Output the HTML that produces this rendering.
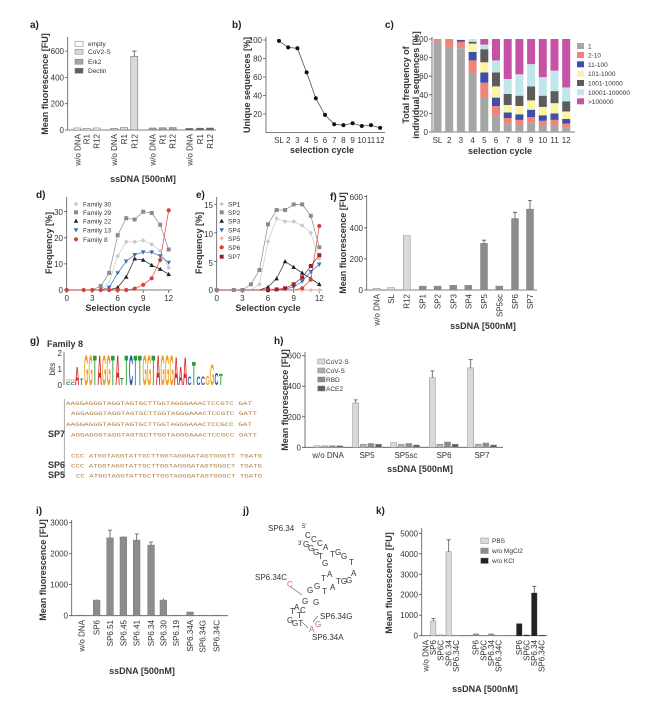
<!DOCTYPE html>
<html><head><meta charset="utf-8"><style>
html,body{margin:0;padding:0;background:#fff}
svg{display:block;font-family:"Liberation Sans",Arial,sans-serif}
.t{font-size:8px;fill:#333}
.b{font-size:9px;font-weight:bold;fill:#333}
.p{font-size:10px;font-weight:bold;fill:#222}
.l{font-size:6.5px;fill:#333}
.ax{stroke:#555;stroke-width:0.8;fill:none}
.sq{font-size:5.2px;font-family:"Liberation Mono",monospace}
</style></head><body>
<svg width="665" height="708" viewBox="0 0 665 708" xmlns="http://www.w3.org/2000/svg">
<defs>
<path id="dia" d="M0,-2.3L2.3,0L0,2.3L-2.3,0Z"/>
<rect id="sqm" x="-2" y="-2" width="4" height="4"/>
<path id="tri" d="M0,-2.4L2.3,1.8L-2.3,1.8Z"/>
<path id="dtri" d="M0,2.4L2.3,-1.8L-2.3,-1.8Z"/>
<circle id="cir" r="2.1"/>
</defs>

<!-- ===== a ===== -->
<text class="p" x="30" y="28">a)</text>
<path class="ax" d="M67.7,37V130H216"/>
<path class="ax" d="M65,130H67.7M65,103.7H67.7M65,77.4H67.7M65,51.1H67.7"/>
<text class="t" text-anchor="end" x="64" y="133">0</text>
<text class="t" text-anchor="end" x="64" y="106.7">200</text>
<text class="t" text-anchor="end" x="64" y="80.4">400</text>
<text class="t" text-anchor="end" x="64" y="54.1">600</text>
<text class="b" transform="translate(48,84) rotate(-90)" text-anchor="middle">Mean fluorescence [FU]</text>
<g stroke="#777" stroke-width="0.6">
<rect x="73.8" y="128" width="7" height="2" fill="#fff"/><rect x="83.2" y="128.4" width="7" height="1.6" fill="#fff"/><rect x="93.2" y="128" width="7" height="2" fill="#fff"/>
<rect x="110.5" y="128.4" width="7" height="1.6" fill="#d9d9d9"/><rect x="120.5" y="127.6" width="7" height="2.4" fill="#d9d9d9"/><rect x="130.8" y="56.3" width="7" height="73.7" fill="#d9d9d9"/>
<rect x="149.2" y="128" width="7" height="2" fill="#a6a6a6"/><rect x="159.2" y="127.8" width="7" height="2.2" fill="#a6a6a6"/><rect x="169.2" y="127.6" width="7" height="2.4" fill="#a6a6a6"/>
<rect x="185.8" y="128.4" width="7" height="1.6" fill="#606060"/><rect x="196.5" y="128.2" width="7" height="1.8" fill="#606060"/><rect x="206.5" y="128" width="7" height="2" fill="#606060"/>
</g>
<path class="ax" d="M134.3,56.3V51M132,51H136.6"/>
<g class="t" text-anchor="end" font-size="8.5">
<text transform="translate(80.3,134) rotate(-90)">w/o DNA</text><text transform="translate(89.7,134) rotate(-90)">R1</text><text transform="translate(99.7,134) rotate(-90)">R12</text>
<text transform="translate(117,134) rotate(-90)">w/o DNA</text><text transform="translate(127,134) rotate(-90)">R1</text><text transform="translate(137.3,134) rotate(-90)">R12</text>
<text transform="translate(155.7,134) rotate(-90)">w/o DNA</text><text transform="translate(165.7,134) rotate(-90)">R1</text><text transform="translate(175.7,134) rotate(-90)">R12</text>
<text transform="translate(192.3,134) rotate(-90)">w/o DNA</text><text transform="translate(203,134) rotate(-90)">R1</text><text transform="translate(213,134) rotate(-90)">R12</text>
</g>
<text class="b" x="143" y="182" text-anchor="middle">ssDNA [500nM]</text>
<g stroke="#777" stroke-width="0.5">
<rect x="75" y="41.2" width="8" height="5" fill="#fff"/><rect x="75" y="49.2" width="8" height="5" fill="#d9d9d9"/><rect x="75" y="59.2" width="8" height="5" fill="#a6a6a6"/><rect x="75" y="68.2" width="8" height="5" fill="#606060"/>
</g>
<g class="l" font-size="5.5"><text x="88" y="46">empty</text><text x="88" y="54">CoV2-S</text><text x="88" y="64">Erk2</text><text x="88" y="73">Dectin</text></g>

<!-- ===== b ===== -->
<text class="p" x="232" y="28">b)</text>
<path class="ax" d="M266,37V132.5H385"/>
<path class="ax" d="M263,40H266M263,58.5H266M263,77H266M263,95.5H266M263,114H266"/>
<g class="t" text-anchor="end"><text x="262" y="43">100</text><text x="262" y="61.5">80</text><text x="262" y="80">60</text><text x="262" y="98.5">40</text><text x="262" y="117">20</text></g>
<text class="b" transform="translate(250,85) rotate(-90)" text-anchor="middle">Unique sequences [%]</text>
<polyline fill="none" stroke="#555" stroke-width="0.8" points="279,40.9 288.2,47.4 297.4,48.3 306.6,72.4 315.8,98.3 325,114.9 334.2,124.2 343.4,125.1 352.6,123.3 361.8,126 371,125.1 380.2,127.9"/>
<g fill="#111"><circle cx="279" cy="40.9" r="2"/><circle cx="288.2" cy="47.4" r="2"/><circle cx="297.4" cy="48.3" r="2"/><circle cx="306.6" cy="72.4" r="2"/><circle cx="315.8" cy="98.3" r="2"/><circle cx="325" cy="114.9" r="2"/><circle cx="334.2" cy="124.2" r="2"/><circle cx="343.4" cy="125.1" r="2"/><circle cx="352.6" cy="123.3" r="2"/><circle cx="361.8" cy="126" r="2"/><circle cx="371" cy="125.1" r="2"/><circle cx="380.2" cy="127.9" r="2"/></g>
<g class="t" text-anchor="middle" font-size="8.5"><text x="279" y="143">SL</text><text x="288.2" y="143">2</text><text x="297.4" y="143">3</text><text x="306.6" y="143">4</text><text x="315.8" y="143">5</text><text x="325" y="143">6</text><text x="334.2" y="143">7</text><text x="343.4" y="143">8</text><text x="352.6" y="143">9</text><text x="361.8" y="143">10</text><text x="371" y="143">11</text><text x="380.2" y="143">12</text></g>
<text class="b" x="322" y="153" text-anchor="middle">selection cycle</text>

<!-- ===== c ===== -->
<text class="p" x="385" y="28">c)</text>
<path class="ax" d="M432,37V132H575"/>
<path class="ax" d="M429,39H432M429,57.6H432M429,76.2H432M429,94.8H432M429,113.4H432M429,132H432"/>
<g class="t" text-anchor="end"><text x="428" y="42">100</text><text x="428" y="60.6">80</text><text x="428" y="79.2">60</text><text x="428" y="97.8">40</text><text x="428" y="116.4">20</text><text x="428" y="135">0</text></g>
<text class="b" transform="translate(409,85) rotate(-90)" text-anchor="middle">Total frequency of</text>
<text class="b" transform="translate(419,85) rotate(-90)" text-anchor="middle">individual sequences [%]</text>
<g>
<!-- SL -->
<rect x="433.5" y="40.9" width="8" height="91.1" fill="#a6a6a6"/><rect x="433.5" y="39" width="8" height="1.9" fill="#f08478"/>
<!-- 2 -->
<rect x="445.2" y="47.4" width="8" height="84.6" fill="#a6a6a6"/><rect x="445.2" y="39" width="8" height="8.4" fill="#f08478"/>
<!-- 3 -->
<rect x="456.9" y="48.3" width="8" height="83.7" fill="#a6a6a6"/><rect x="456.9" y="41.8" width="8" height="6.5" fill="#f08478"/><rect x="456.9" y="39.9" width="8" height="1.9" fill="#3d4fa8"/><rect x="456.9" y="39" width="8" height="0.9" fill="#fbf3a6"/>
<!-- 4 -->
<rect x="468.6" y="72.5" width="8" height="59.5" fill="#a6a6a6"/><rect x="468.6" y="60.4" width="8" height="12.1" fill="#f08478"/><rect x="468.6" y="52" width="8" height="8.4" fill="#3d4fa8"/><rect x="468.6" y="43.6" width="8" height="8.4" fill="#fbf3a6"/><rect x="468.6" y="41.7" width="8" height="1.9" fill="#5c5c5c"/><rect x="468.6" y="39" width="8" height="2.7" fill="#bfe6ea"/>
<!-- 5 -->
<rect x="480.3" y="97.6" width="8" height="34.4" fill="#a6a6a6"/><rect x="480.3" y="82.7" width="8" height="14.9" fill="#f08478"/><rect x="480.3" y="72.5" width="8" height="10.2" fill="#3d4fa8"/><rect x="480.3" y="62.25" width="8" height="10.25" fill="#fbf3a6"/><rect x="480.3" y="49.2" width="8" height="13.05" fill="#5c5c5c"/><rect x="480.3" y="44.6" width="8" height="4.6" fill="#bfe6ea"/><rect x="480.3" y="39" width="8" height="5.6" fill="#c552a6"/>
<!-- 6 -->
<rect x="492" y="115.3" width="8" height="16.7" fill="#a6a6a6"/><rect x="492" y="106" width="8" height="9.3" fill="#f08478"/><rect x="492" y="97.6" width="8" height="8.4" fill="#3d4fa8"/><rect x="492" y="86.4" width="8" height="11.2" fill="#fbf3a6"/><rect x="492" y="72.5" width="8" height="13.9" fill="#5c5c5c"/><rect x="492" y="60.4" width="8" height="12.1" fill="#bfe6ea"/><rect x="492" y="39" width="8" height="21.4" fill="#c552a6"/>
<!-- 7 -->
<rect x="503.7" y="123.6" width="8" height="8.4" fill="#a6a6a6"/><rect x="503.7" y="118" width="8" height="5.6" fill="#f08478"/><rect x="503.7" y="112.5" width="8" height="5.5" fill="#3d4fa8"/><rect x="503.7" y="105" width="8" height="7.5" fill="#fbf3a6"/><rect x="503.7" y="93.9" width="8" height="11.1" fill="#5c5c5c"/><rect x="503.7" y="79" width="8" height="14.9" fill="#bfe6ea"/><rect x="503.7" y="39" width="8" height="40" fill="#c552a6"/>
<!-- 8 -->
<rect x="515.4" y="124.6" width="8" height="7.4" fill="#a6a6a6"/><rect x="515.4" y="119.9" width="8" height="4.7" fill="#f08478"/><rect x="515.4" y="114.3" width="8" height="5.6" fill="#3d4fa8"/><rect x="515.4" y="106" width="8" height="8.3" fill="#fbf3a6"/><rect x="515.4" y="95.7" width="8" height="10.3" fill="#5c5c5c"/><rect x="515.4" y="74.3" width="8" height="21.4" fill="#bfe6ea"/><rect x="515.4" y="39" width="8" height="35.3" fill="#c552a6"/>
<!-- 9 -->
<rect x="527.1" y="122.7" width="8" height="9.3" fill="#a6a6a6"/><rect x="527.1" y="117.1" width="8" height="5.6" fill="#f08478"/><rect x="527.1" y="109.7" width="8" height="7.4" fill="#3d4fa8"/><rect x="527.1" y="100.4" width="8" height="9.3" fill="#fbf3a6"/><rect x="527.1" y="86.4" width="8" height="14" fill="#5c5c5c"/><rect x="527.1" y="64.1" width="8" height="22.3" fill="#bfe6ea"/><rect x="527.1" y="39" width="8" height="25.1" fill="#c552a6"/>
<!-- 10 -->
<rect x="538.8" y="125.5" width="8" height="6.5" fill="#a6a6a6"/><rect x="538.8" y="120.8" width="8" height="4.7" fill="#f08478"/><rect x="538.8" y="115.3" width="8" height="5.5" fill="#3d4fa8"/><rect x="538.8" y="106.9" width="8" height="8.4" fill="#fbf3a6"/><rect x="538.8" y="95.7" width="8" height="11.2" fill="#5c5c5c"/><rect x="538.8" y="77.1" width="8" height="18.6" fill="#bfe6ea"/><rect x="538.8" y="39" width="8" height="38.1" fill="#c552a6"/>
<!-- 11 -->
<rect x="550.5" y="124.6" width="8" height="7.4" fill="#a6a6a6"/><rect x="550.5" y="119.9" width="8" height="4.7" fill="#f08478"/><rect x="550.5" y="113.4" width="8" height="6.5" fill="#3d4fa8"/><rect x="550.5" y="103.2" width="8" height="10.2" fill="#fbf3a6"/><rect x="550.5" y="91.1" width="8" height="12.1" fill="#5c5c5c"/><rect x="550.5" y="70.6" width="8" height="20.5" fill="#bfe6ea"/><rect x="550.5" y="39" width="8" height="31.6" fill="#c552a6"/>
<!-- 12 -->
<rect x="562.2" y="127.4" width="8" height="4.6" fill="#a6a6a6"/><rect x="562.2" y="123.6" width="8" height="3.8" fill="#f08478"/><rect x="562.2" y="119" width="8" height="4.6" fill="#3d4fa8"/><rect x="562.2" y="111.5" width="8" height="7.5" fill="#fbf3a6"/><rect x="562.2" y="101.3" width="8" height="10.2" fill="#5c5c5c"/><rect x="562.2" y="87.4" width="8" height="13.9" fill="#bfe6ea"/><rect x="562.2" y="39" width="8" height="48.4" fill="#c552a6"/>
</g>
<g class="t" text-anchor="middle" font-size="8.5"><text x="437.5" y="143">SL</text><text x="449.2" y="143">2</text><text x="460.9" y="143">3</text><text x="472.6" y="143">4</text><text x="484.3" y="143">5</text><text x="496" y="143">6</text><text x="507.7" y="143">7</text><text x="519.4" y="143">8</text><text x="531.1" y="143">9</text><text x="542.8" y="143">10</text><text x="554.5" y="143">11</text><text x="566.2" y="143">12</text></g>
<text class="b" x="500" y="154" text-anchor="middle">selection cycle</text>
<g>
<rect x="577" y="43" width="7" height="6" fill="#a6a6a6"/><rect x="577" y="52" width="7" height="6" fill="#f08478"/><rect x="577" y="61.3" width="7" height="6" fill="#3d4fa8"/><rect x="577" y="70.7" width="7" height="6" fill="#fbf3a6"/><rect x="577" y="80" width="7" height="6" fill="#5c5c5c"/><rect x="577" y="89.3" width="7" height="6" fill="#bfe6ea"/><rect x="577" y="98.3" width="7" height="6" fill="#c552a6"/>
</g>
<g class="l"><text x="588" y="48.5">1</text><text x="588" y="57.5">2-10</text><text x="588" y="66.8">11-100</text><text x="588" y="76.2">101-1000</text><text x="588" y="85.5">1001-10000</text><text x="588" y="94.8">10001-100000</text><text x="588" y="103.8">&gt;100000</text></g>

<!-- ===== d ===== -->
<text class="p" x="36" y="198">d)</text>
<path class="ax" d="M66.7,197V290H172"/>
<path class="ax" d="M64,290H66.7M64,263.9H66.7M64,237.8H66.7M64,211.7H66.7M66.7,290V293M92.2,290V293M117.7,290V293M143.2,290V293M168.7,290V293"/>
<g class="t" text-anchor="end" font-size="8.5"><text x="63" y="293">0</text><text x="63" y="267">10</text><text x="63" y="241">20</text><text x="63" y="215">30</text></g>
<g class="t" text-anchor="middle" font-size="8.5"><text x="66.7" y="301">0</text><text x="92.2" y="301">3</text><text x="117.7" y="301">6</text><text x="143.2" y="301">9</text><text x="168.7" y="301">12</text></g>
<text class="b" x="118" y="311" text-anchor="middle">Selection cycle</text>
<text class="b" transform="translate(52,243) rotate(-90)" text-anchor="middle">Frequency [%]</text>
<g fill="none" stroke-width="0.7">
<polyline stroke="#8a8a8a" points="66.7,290 83.7,290 92.2,290 100.7,286.1 109.2,273 117.7,235.2 126.2,218.2 134.7,219.5 143.2,211.7 151.7,213 160.2,224.8 168.7,249.5"/>
<polyline stroke="#c8c8c8" points="66.7,290 83.7,290 92.2,290 100.7,290 109.2,282.2 117.7,256.1 126.2,241.7 134.7,241.7 143.2,240.4 151.7,244.3 160.2,250.9 168.7,267.8"/>
<polyline stroke="#3a6fb0" points="66.7,290 83.7,290 92.2,290 100.7,290 109.2,287.4 117.7,273 126.2,261.3 134.7,254.8 143.2,252.2 151.7,252.2 160.2,256.1 168.7,262.6"/>
<polyline stroke="#222" points="66.7,290 83.7,290 92.2,290 100.7,290 109.2,290 117.7,287.4 126.2,277 134.7,258.7 143.2,260 151.7,265.2 160.2,269.1 168.7,274.3"/>
<polyline stroke="#d9403a" points="66.7,290 83.7,290 92.2,290 100.7,290 109.2,290 117.7,290 126.2,290 134.7,288.7 143.2,284.8 151.7,278.3 160.2,260 168.7,210.4"/>
</g>
<g fill="#8a8a8a"><use href="#sqm" x="100.7" y="286.1"/><use href="#sqm" x="109.2" y="273"/><use href="#sqm" x="117.7" y="235.2"/><use href="#sqm" x="126.2" y="218.2"/><use href="#sqm" x="134.7" y="219.5"/><use href="#sqm" x="143.2" y="211.7"/><use href="#sqm" x="151.7" y="213"/><use href="#sqm" x="160.2" y="224.8"/><use href="#sqm" x="168.7" y="249.5"/></g>
<g fill="#c8c8c8"><use href="#dia" x="117.7" y="256.1"/><use href="#dia" x="126.2" y="241.7"/><use href="#dia" x="134.7" y="241.7"/><use href="#dia" x="143.2" y="240.4"/><use href="#dia" x="151.7" y="244.3"/><use href="#dia" x="160.2" y="250.9"/><use href="#dia" x="168.7" y="267.8"/></g>
<g fill="#3a6fb0"><use href="#dtri" x="109.2" y="287.4"/><use href="#dtri" x="117.7" y="273"/><use href="#dtri" x="126.2" y="261.3"/><use href="#dtri" x="134.7" y="254.8"/><use href="#dtri" x="143.2" y="252.2"/><use href="#dtri" x="151.7" y="252.2"/><use href="#dtri" x="160.2" y="256.1"/><use href="#dtri" x="168.7" y="262.6"/></g>
<g fill="#222"><use href="#tri" x="117.7" y="287.4"/><use href="#tri" x="126.2" y="277"/><use href="#tri" x="134.7" y="258.7"/><use href="#tri" x="143.2" y="260"/><use href="#tri" x="151.7" y="265.2"/><use href="#tri" x="160.2" y="269.1"/><use href="#tri" x="168.7" y="274.3"/></g>
<g fill="#d9403a"><use href="#cir" x="66.7" y="290"/><use href="#cir" x="83.7" y="290"/><use href="#cir" x="92.2" y="290"/><use href="#cir" x="100.7" y="290"/><use href="#cir" x="109.2" y="290"/><use href="#cir" x="117.7" y="290"/><use href="#cir" x="126.2" y="290"/><use href="#cir" x="134.7" y="288.7"/><use href="#cir" x="143.2" y="284.8"/><use href="#cir" x="151.7" y="278.3"/><use href="#cir" x="160.2" y="260"/><use href="#cir" x="168.7" y="210.4"/></g>
<use href="#dia" x="76" y="204" fill="#c8c8c8"/><use href="#sqm" x="76" y="212.3" fill="#8a8a8a"/><use href="#tri" x="76" y="221" fill="#222"/><use href="#dtri" x="76" y="230" fill="#3a6fb0"/><use href="#cir" x="76" y="239.3" fill="#d9403a"/>
<g class="l" font-size="7"><text x="83" y="206.5">Family 30</text><text x="83" y="214.8">Family 29</text><text x="83" y="223.5">Family 22</text><text x="83" y="232.5">Family 13</text><text x="83" y="241.8">Family 8</text></g>

<!-- ===== e ===== -->
<text class="p" x="196" y="198">e)</text>
<path class="ax" d="M216.7,197V290H322"/>
<path class="ax" d="M214,290H216.7M214,261.5H216.7M214,232.9H216.7M214,204.4H216.7M216.7,290V293M242.4,290V293M268,290V293M293.7,290V293M319.3,290V293"/>
<g class="t" text-anchor="end" font-size="8.5"><text x="213" y="293">0</text><text x="213" y="266">5</text><text x="213" y="237">10</text><text x="213" y="208">15</text></g>
<g class="t" text-anchor="middle" font-size="8.5"><text x="216.7" y="301">0</text><text x="242.4" y="301">3</text><text x="268" y="301">6</text><text x="293.7" y="301">9</text><text x="319.3" y="301">12</text></g>
<text class="b" x="268" y="311" text-anchor="middle">Selection cycle</text>
<text class="b" transform="translate(202,243) rotate(-90)" text-anchor="middle">Frequency [%]</text>
<g fill="none" stroke-width="0.7">
<polyline stroke="#8a8a8a" points="216.7,290 233.8,290 242.4,290 250.9,284.3 259.5,270 268,224.3 276.6,210 285.1,210 293.7,204.4 302.2,204.4 310.8,215.8 319.3,247.2"/>
<polyline stroke="#c8c8c8" points="216.7,290 233.8,290 242.4,290 250.9,290 259.5,284.3 268,241.5 276.6,218.6 285.1,221.5 293.7,221.5 302.2,225.5 310.8,232.9 319.3,258.6"/>
<polyline stroke="#222" points="216.7,290 233.8,290 242.4,290 250.9,290 259.5,290 268,287.1 276.6,278.6 285.1,261.5 293.7,267.2 302.2,272.9 310.8,278.6 319.3,284.3"/>
<polyline stroke="#3a6fb0" points="216.7,290 276.6,290 285.1,288.9 293.7,287.1 302.2,281.4 310.8,271.7 319.3,264.3"/>
<polyline stroke="#f0b8b8" points="216.7,290 319.3,290"/>
<polyline stroke="#d9403a" points="216.7,290 293.7,290 302.2,288.3 310.8,279.7 319.3,226"/>
<polyline stroke="#a0202a" points="216.7,290 268,290 276.6,289.4 285.1,288.3 293.7,284.3 302.2,277.4 310.8,266 319.3,255.2"/>
</g>
<g fill="#8a8a8a"><use href="#sqm" x="216.7" y="290"/><use href="#sqm" x="233.8" y="290"/><use href="#sqm" x="242.4" y="290"/><use href="#sqm" x="250.9" y="284.3"/><use href="#sqm" x="259.5" y="270"/><use href="#sqm" x="268" y="224.3"/><use href="#sqm" x="276.6" y="210"/><use href="#sqm" x="285.1" y="210"/><use href="#sqm" x="293.7" y="204.4"/><use href="#sqm" x="302.2" y="204.4"/><use href="#sqm" x="310.8" y="215.8"/><use href="#sqm" x="319.3" y="247.2"/></g>
<g fill="#c8c8c8"><use href="#dia" x="259.5" y="284.3"/><use href="#dia" x="268" y="241.5"/><use href="#dia" x="276.6" y="218.6"/><use href="#dia" x="285.1" y="221.5"/><use href="#dia" x="293.7" y="221.5"/><use href="#dia" x="302.2" y="225.5"/><use href="#dia" x="310.8" y="232.9"/><use href="#dia" x="319.3" y="258.6"/></g>
<g fill="#222"><use href="#tri" x="268" y="287.1"/><use href="#tri" x="276.6" y="278.6"/><use href="#tri" x="285.1" y="261.5"/><use href="#tri" x="293.7" y="267.2"/><use href="#tri" x="302.2" y="272.9"/><use href="#tri" x="310.8" y="278.6"/><use href="#tri" x="319.3" y="284.3"/></g>
<g fill="#3a6fb0"><use href="#dtri" x="285.1" y="288.9"/><use href="#dtri" x="293.7" y="287.1"/><use href="#dtri" x="302.2" y="281.4"/><use href="#dtri" x="310.8" y="271.7"/><use href="#dtri" x="319.3" y="264.3"/></g>
<g fill="#f0b8b8"><use href="#dia" x="302.2" y="290"/><use href="#dia" x="310.8" y="290"/><use href="#dia" x="319.3" y="290"/></g>
<g fill="#a0202a"><use href="#sqm" x="268" y="290"/><use href="#sqm" x="276.6" y="289.4"/><use href="#sqm" x="285.1" y="288.3"/><use href="#sqm" x="293.7" y="284.3"/><use href="#sqm" x="302.2" y="277.4"/><use href="#sqm" x="310.8" y="266"/><use href="#sqm" x="319.3" y="255.2"/></g>
<g fill="#d9403a"><use href="#cir" x="302.2" y="288.3"/><use href="#cir" x="310.8" y="279.7"/><use href="#cir" x="319.3" y="226"/></g>
<use href="#dia" x="221.7" y="204" fill="#c8c8c8"/><use href="#sqm" x="221.7" y="212.3" fill="#8a8a8a"/><use href="#tri" x="221.7" y="221" fill="#222"/><use href="#dtri" x="221.7" y="230" fill="#3a6fb0"/><use href="#dia" x="221.7" y="238.3" fill="#f0b8b8"/><use href="#cir" x="221.7" y="247.3" fill="#d9403a"/><use href="#sqm" x="221.7" y="256.7" fill="#a0202a"/>
<g class="l" font-size="7"><text x="228" y="206.5">SP1</text><text x="228" y="214.8">SP2</text><text x="228" y="223.5">SP3</text><text x="228" y="232.5">SP4</text><text x="228" y="240.8">SP5</text><text x="228" y="249.8">SP6</text><text x="228" y="259.2">SP7</text></g>

<!-- ===== f ===== -->
<text class="p" x="330" y="200">f)</text>
<path class="ax" d="M366.7,195V290H537"/>
<path class="ax" d="M364,290H366.7M364,258.9H366.7M364,227.8H366.7M364,196.7H366.7"/>
<g class="t" text-anchor="end" font-size="8.5"><text x="363" y="293">0</text><text x="363" y="262">200</text><text x="363" y="231">400</text><text x="363" y="200">600</text></g>
<text class="b" transform="translate(346,243) rotate(-90)" text-anchor="middle">Mean fluorescence [FU]</text>
<g stroke="#888" stroke-width="0.5">
<rect x="373.2" y="288.4" width="7" height="1.6" fill="#d9d9d9"/><rect x="387.5" y="287.7" width="7" height="2.3" fill="#d9d9d9"/><rect x="403.2" y="235.6" width="7" height="54.4" fill="#d9d9d9"/>
<g fill="#8c8c8c"><rect x="419.2" y="286.1" width="7" height="3.9"/><rect x="434.2" y="286.1" width="7" height="3.9"/><rect x="449.8" y="285.3" width="7" height="4.7"/><rect x="464.8" y="285.3" width="7" height="4.7"/><rect x="480.5" y="243.3" width="7" height="46.7"/><rect x="495.8" y="286.1" width="7" height="3.9"/><rect x="511.5" y="218.5" width="7" height="71.5"/><rect x="526.5" y="209.1" width="7" height="80.9"/></g>
</g>
<path class="ax" d="M484,243.3V240.2M482,240.2H486M515,218.5V212.3M513,212.3H517M530,209.1V200.5M528,200.5H532"/>
<g class="t" text-anchor="end" font-size="8.5">
<text transform="translate(379.7,294) rotate(-90)">w/o DNA</text><text transform="translate(394,294) rotate(-90)">SL</text><text transform="translate(409.7,294) rotate(-90)">R12</text><text transform="translate(425.7,294) rotate(-90)">SP1</text><text transform="translate(440.7,294) rotate(-90)">SP2</text><text transform="translate(456.3,294) rotate(-90)">SP3</text><text transform="translate(471.3,294) rotate(-90)">SP4</text><text transform="translate(487,294) rotate(-90)">SP5</text><text transform="translate(502.3,294) rotate(-90)">SP5sc</text><text transform="translate(518,294) rotate(-90)">SP6</text><text transform="translate(533,294) rotate(-90)">SP7</text>
</g>
<text class="b" x="483" y="329" text-anchor="middle">ssDNA [500nM]</text>

<!-- ===== g ===== -->
<text class="p" x="30" y="344">g)</text>
<text class="b" x="47" y="347" font-size="8">Family 8</text>
<text class="t" transform="translate(55,369) rotate(-90)" text-anchor="middle" font-size="8">bits</text>
<path class="ax" d="M64,352V385"/>
<g class="t" text-anchor="end" font-size="7.5"><text x="62" y="356">2</text><text x="62" y="372">1</text><text x="62" y="388">0</text></g>
<g font-family="Liberation Sans, sans-serif" font-weight="bold" font-size="10">
<text transform="translate(66,385) scale(0.6,0.45)" fill="#2050b0">C</text><text transform="translate(66,381.5) scale(0.6,0.4)" fill="#f0a020">G</text>
<text transform="translate(70.5,385) scale(0.6,0.45)" fill="#2050b0">C</text><text transform="translate(70.5,381.5) scale(0.6,0.4)" fill="#f0a020">G</text>
<text transform="translate(75,385) scale(0.6,2.6)" fill="#d62728">A</text>
<text transform="translate(79.5,385) scale(0.6,0.9)" fill="#2a9a3a">T</text>
<text transform="translate(84,385) scale(0.55,4.3)" fill="#f0a020">G</text>
<text transform="translate(88.5,385) scale(0.55,4.3)" fill="#f0a020">G</text>
<text transform="translate(93,385) scale(0.6,4.3)" fill="#2a9a3a">T</text>
<text transform="translate(97.5,385) scale(0.6,4.3)" fill="#d62728">A</text>
<text transform="translate(102,385) scale(0.55,4.3)" fill="#f0a020">G</text>
<text transform="translate(106.5,385) scale(0.55,4.3)" fill="#f0a020">G</text>
<text transform="translate(111,385) scale(0.6,4.3)" fill="#2a9a3a">T</text>
<text transform="translate(115.5,385) scale(0.6,4.3)" fill="#d62728">A</text>
<text transform="translate(120,385) scale(0.6,1.0)" fill="#2a9a3a">T</text>
<text transform="translate(124.5,385) scale(0.6,4.3)" fill="#2a9a3a">T</text>
<text transform="translate(129,385) scale(0.55,4.3)" fill="#2050b0">C</text>
<text transform="translate(133.5,385) scale(0.6,4.3)" fill="#2a9a3a">T</text>
<text transform="translate(138,385) scale(0.6,4.3)" fill="#2a9a3a">T</text>
<text transform="translate(142.5,385) scale(0.55,4.3)" fill="#f0a020">G</text>
<text transform="translate(147,385) scale(0.55,4.3)" fill="#f0a020">G</text>
<text transform="translate(151.5,385) scale(0.6,4.3)" fill="#2a9a3a">T</text>
<text transform="translate(156,385) scale(0.6,4.3)" fill="#d62728">A</text>
<text transform="translate(160.5,385) scale(0.55,4.3)" fill="#f0a020">G</text>
<text transform="translate(165,385) scale(0.55,4.3)" fill="#f0a020">G</text>
<text transform="translate(169.5,385) scale(0.55,4.3)" fill="#f0a020">G</text>
<text transform="translate(174,385) scale(0.6,4.0)" fill="#d62728">A</text>
<text transform="translate(178.5,385) scale(0.6,2.6)" fill="#d62728">A</text>
<text transform="translate(183,385) scale(0.6,4.0)" fill="#d62728">A</text>
<text transform="translate(187.5,385) scale(0.55,1.2)" fill="#2050b0">C</text>
<text transform="translate(192,385) scale(0.6,3.3)" fill="#2a9a3a">T</text>
<text transform="translate(196.5,385) scale(0.55,1.2)" fill="#2050b0">C</text>
<text transform="translate(201,385) scale(0.55,1.2)" fill="#2050b0">C</text>
<text transform="translate(205.5,385) scale(0.55,1.3)" fill="#f0a020">G</text>
<text transform="translate(210,385) scale(0.55,3.0)" fill="#f0a020">G</text>
<text transform="translate(214.5,385) scale(0.55,1.8)" fill="#2050b0">C</text>
<text transform="translate(219,385) scale(0.6,1.6)" fill="#2a9a3a">T</text>
</g>
<path stroke="#888" stroke-width="0.7" d="M64.3,399V477"/>
<g class="b" font-size="7"><text x="48" y="437">SP7</text><text x="48" y="468">SP6</text><text x="48" y="478">SP5</text></g>
<g class="sq" fill="#b07a3a">
<text x="66" y="405" textLength="186" lengthAdjust="spacingAndGlyphs">AAGGAGGGTAGGTAGTGCTTGGTAGGGAAACTCCGTC GAT</text>
<text x="71" y="415" textLength="186" lengthAdjust="spacingAndGlyphs">AGGAGGGTAGGTAGTGCTTGGTAGGGAAACTCCGTC GATT</text>
<text x="66" y="426" textLength="186" lengthAdjust="spacingAndGlyphs">AAGGAGGGTAGGTAGTGCTTGGTAGGGAAACTCCGCC GAT</text>
<text x="71" y="436.5" textLength="186" lengthAdjust="spacingAndGlyphs">AGGAGGGTAGGTAGTGCTTGGTAGGGAAACTCCGCC GATT</text>
<text x="71" y="457.5" textLength="191" lengthAdjust="spacingAndGlyphs">CCC ATGGTAGGTATTGCTTGGTAGGGATAGTGGGTT TGATG</text>
<text x="71" y="467.5" textLength="191" lengthAdjust="spacingAndGlyphs">CCC ATGGTAGGTATTGCTTGGTAGGGATAGTGGGCT TGATG</text>
<text x="76" y="477.5" textLength="186" lengthAdjust="spacingAndGlyphs">CC ATGGTAGGTATTGCTTGGTAGGGATAGTGGGCT TGATG</text>
</g>

<!-- ===== h ===== -->
<text class="p" x="274" y="344">h)</text>
<path class="ax" d="M305,352V447.3H503"/>
<path class="ax" d="M302,447.3H305M302,416.8H305M302,386.2H305M302,355.7H305"/>
<g class="t" text-anchor="end" font-size="8.5"><text x="301" y="450.3">0</text><text x="301" y="419.8">200</text><text x="301" y="389.2">400</text><text x="301" y="358.7">600</text></g>
<text class="b" transform="translate(288,400) rotate(-90)" text-anchor="middle">Mean fluorescence [FU]</text>
<g stroke="#888" stroke-width="0.5">
<rect x="314" y="445.8" width="6" height="1.5" fill="#d9d9d9"/><rect x="321.6" y="445.8" width="6" height="1.5" fill="#b0b0b0"/><rect x="329.2" y="445.8" width="6" height="1.5" fill="#8c8c8c"/><rect x="336.8" y="445.8" width="6" height="1.5" fill="#5f5f5f"/>
<rect x="352.7" y="403" width="6" height="44.3" fill="#d9d9d9"/><rect x="360.3" y="444.2" width="6" height="3.1" fill="#b0b0b0"/><rect x="367.9" y="443.5" width="6" height="3.8" fill="#8c8c8c"/><rect x="375.5" y="444.2" width="6" height="3.1" fill="#5f5f5f"/>
<rect x="390.7" y="442.7" width="6" height="4.6" fill="#d9d9d9"/><rect x="398.3" y="444.2" width="6" height="3.1" fill="#b0b0b0"/><rect x="405.9" y="443.5" width="6" height="3.8" fill="#8c8c8c"/><rect x="413.5" y="445" width="6" height="2.3" fill="#5f5f5f"/>
<rect x="429.3" y="377.8" width="6" height="69.5" fill="#d9d9d9"/><rect x="436.9" y="444.2" width="6" height="3.1" fill="#b0b0b0"/><rect x="444.5" y="442" width="6" height="5.3" fill="#8c8c8c"/><rect x="452.1" y="444.2" width="6" height="3.1" fill="#5f5f5f"/>
<rect x="467.7" y="367.9" width="6" height="79.4" fill="#d9d9d9"/><rect x="475.3" y="444.2" width="6" height="3.1" fill="#b0b0b0"/><rect x="482.9" y="443" width="6" height="4.3" fill="#8c8c8c"/><rect x="490.5" y="445" width="6" height="2.3" fill="#5f5f5f"/>
</g>
<path class="ax" d="M355.7,403V399.9M353.7,399.9H357.7M432.3,377.8V370.9M430.3,370.9H434.3M470.7,367.9V359.5M468.7,359.5H472.7"/>
<g class="t" text-anchor="middle" font-size="8.5"><text x="328" y="458">w/o DNA</text><text x="367" y="458">SP5</text><text x="406" y="458">SP5sc</text><text x="444" y="458">SP6</text><text x="482" y="458">SP7</text></g>
<text class="b" x="420" y="472" text-anchor="middle">ssDNA [500nM]</text>
<g stroke="#888" stroke-width="0.5"><rect x="317.7" y="359" width="7.3" height="5" fill="#d9d9d9"/><rect x="317.7" y="368" width="7.3" height="5" fill="#b0b0b0"/><rect x="317.7" y="377" width="7.3" height="5" fill="#8c8c8c"/><rect x="317.7" y="386" width="7.3" height="5" fill="#5f5f5f"/></g>
<g class="l" font-size="6.5"><text x="326" y="364">CoV2-S</text><text x="326" y="373">CoV-S</text><text x="326" y="382">RBD</text><text x="326" y="391">ACE2</text></g>

<!-- ===== i ===== -->
<text class="p" x="36" y="514">i)</text>
<path class="ax" d="M71.7,520V615.7H228"/>
<path class="ax" d="M69,615.7H71.7M69,584.6H71.7M69,553.5H71.7M69,522.4H71.7"/>
<g class="t" text-anchor="end" font-size="8.5"><text x="68" y="618.7">0</text><text x="68" y="587.6">1000</text><text x="68" y="556.5">2000</text><text x="68" y="525.4">3000</text></g>
<text class="b" transform="translate(46,570) rotate(-90)" text-anchor="middle">Mean fluorescence [FU]</text>
<g fill="#8c8c8c" stroke="#777" stroke-width="0.5">
<rect x="78.3" y="615.2" width="6.7" height="0.5"/><rect x="93.3" y="600.1" width="6.7" height="15.6"/><rect x="106.7" y="537.9" width="6.7" height="77.8"/><rect x="120" y="537" width="6.7" height="78.7"/><rect x="133.3" y="540.1" width="6.7" height="75.6"/><rect x="147.7" y="545.1" width="6.7" height="70.6"/><rect x="160" y="600.1" width="6.7" height="15.6"/><rect x="172.7" y="615.2" width="6.7" height="0.5"/><rect x="186.7" y="612" width="6.7" height="3.7"/><rect x="199.3" y="615.2" width="6.7" height="0.5"/><rect x="213.3" y="615.2" width="6.7" height="0.5"/>
</g>
<path class="ax" d="M110,537.9V530.1M108,530.1H112M123.3,537V536.4M136.7,540.1V533.9M134.7,533.9H138.7M151,545.1V542M149,542H153M163.3,600.1V598.5M96.7,600.1V599.5"/>
<g class="t" text-anchor="end" font-size="8.5">
<text transform="translate(84.7,620) rotate(-90)">w/o DNA</text><text transform="translate(99.7,620) rotate(-90)">SP6</text><text transform="translate(113,620) rotate(-90)">SP6.51</text><text transform="translate(126.3,620) rotate(-90)">SP6.45</text><text transform="translate(139.7,620) rotate(-90)">SP6.41</text><text transform="translate(154,620) rotate(-90)">SP6.34</text><text transform="translate(166.3,620) rotate(-90)">SP6.30</text><text transform="translate(179,620) rotate(-90)">SP6.19</text><text transform="translate(193,620) rotate(-90)">SP6.34A</text><text transform="translate(205.7,620) rotate(-90)">SP6.34G</text><text transform="translate(219.7,620) rotate(-90)">SP6.34C</text>
</g>
<text class="b" x="142" y="674" text-anchor="middle">ssDNA [500nM]</text>

<!-- ===== j ===== -->
<text class="p" x="243" y="514">j)</text>
<g class="t" font-size="7.5" fill="#444">
<text x="268" y="531">SP6.34</text><text x="302" y="528" font-size="6">5'</text>
<text x="305" y="538">C</text><text x="311" y="542">C</text><text x="317" y="546">C</text><text x="323" y="550">A</text>
<text x="298" y="545" font-size="6">3'</text><text x="303" y="547">G</text><text x="308" y="551">G</text><text x="313" y="555">G</text><text x="318" y="559">T</text><text x="322" y="566">G</text>
<text x="330" y="557">T</text><text x="335" y="555">G</text><text x="341" y="559">G</text><text x="349" y="565">T</text><text x="351" y="576">A</text><text x="346" y="583">G</text><text x="336" y="584">TG</text>
<text x="327" y="577">A</text><text x="321" y="581">T</text><text x="330" y="590">A</text><text x="322" y="594">T</text>
<text x="314" y="589">G</text><text x="307" y="593">G</text><text x="313" y="605">G</text><text x="302" y="604">G</text><text x="300" y="613">C</text><text x="294" y="610">A</text><text x="290" y="614">T</text><text x="297" y="618">T</text><text x="287" y="623">G</text><text x="292" y="626">GT</text>
<text x="255" y="580">SP6.34C</text><text x="287" y="587" fill="#d0607a">C</text>
<text x="320" y="619">SP6.34G</text><text x="315" y="627" fill="#d0607a">G</text><text x="309" y="632" fill="#d0607a">A</text>
<text x="312" y="640">SP6.34A</text>
</g>
<path stroke="#666" stroke-width="0.6" d="M291,587L302,595M302,622L308,628M318,616L313,622"/>

<!-- ===== k ===== -->
<text class="p" x="376" y="514">k)</text>
<path class="ax" d="M421.7,528V635.7H547"/>
<path class="ax" d="M419,635.7H421.7M419,615.2H421.7M419,594.7H421.7M419,574.3H421.7M419,553.8H421.7M419,533.3H421.7"/>
<g class="t" text-anchor="end" font-size="8.5"><text x="418" y="638.7">0</text><text x="418" y="618.2">1000</text><text x="418" y="597.7">2000</text><text x="418" y="577.3">3000</text><text x="418" y="556.8">4000</text><text x="418" y="536.3">5000</text></g>
<text class="b" transform="translate(392,583) rotate(-90)" text-anchor="middle">Mean fluorescence [FU]</text>
<g stroke="#888" stroke-width="0.5">
<g fill="#d9d9d9"><rect x="423" y="635.3" width="5.3" height="0.4"/><rect x="430.6" y="621" width="5.3" height="14.7"/><rect x="438.3" y="634.9" width="5.3" height="0.8"/><rect x="446" y="551.7" width="5.3" height="84"/><rect x="453.6" y="635.4" width="5.3" height="0.3"/></g>
<g fill="#8c8c8c"><rect x="473.3" y="633.9" width="5.3" height="1.8"/><rect x="481" y="635.3" width="5.3" height="0.4"/><rect x="488.6" y="633.9" width="5.3" height="1.8"/><rect x="496.3" y="635.5" width="5.3" height="0.2"/></g>
<g fill="#222" stroke="#222"><rect x="516.6" y="623.8" width="5.3" height="11.9"/><rect x="524" y="635.1" width="5.3" height="0.6"/><rect x="531.6" y="593.1" width="5.3" height="42.6"/><rect x="539.3" y="635.5" width="5.3" height="0.2"/></g>
</g>
<path class="ax" d="M433.3,621V618.5M431.3,618.5H435.3M448.7,551.7V539.8M446.7,539.8H450.7M534.3,593.1V586.3M532.3,586.3H536.3"/>
<g class="t" text-anchor="end" font-size="8">
<text transform="translate(428.5,640) rotate(-90)">w/o DNA</text><text transform="translate(436,640) rotate(-90)">SP6</text><text transform="translate(443.7,640) rotate(-90)">SP6C</text><text transform="translate(451.4,640) rotate(-90)">SP6.34</text><text transform="translate(459,640) rotate(-90)">SP6.34C</text>
<text transform="translate(478.7,640) rotate(-90)">SP6</text><text transform="translate(486.4,640) rotate(-90)">SP6C</text><text transform="translate(494,640) rotate(-90)">SP6.34</text><text transform="translate(501.7,640) rotate(-90)">SP6.34C</text>
<text transform="translate(522,640) rotate(-90)">SP6</text><text transform="translate(529.4,640) rotate(-90)">SP6C</text><text transform="translate(537,640) rotate(-90)">SP6.34</text><text transform="translate(544.7,640) rotate(-90)">SP6.34C</text>
</g>
<text class="b" x="485" y="692" text-anchor="middle">ssDNA [500nM]</text>
<g stroke="#888" stroke-width="0.5"><rect x="480.7" y="538" width="7.6" height="5.5" fill="#d9d9d9"/><rect x="480.7" y="548" width="7.6" height="5.5" fill="#8c8c8c"/><rect x="480.7" y="558" width="7.6" height="5.5" fill="#222"/></g>
<g class="l" font-size="6.5"><text x="492" y="543">PBS</text><text x="492" y="553">w/o MgCl2</text><text x="492" y="563">w/o KCl</text></g>
</svg>
</body></html>
